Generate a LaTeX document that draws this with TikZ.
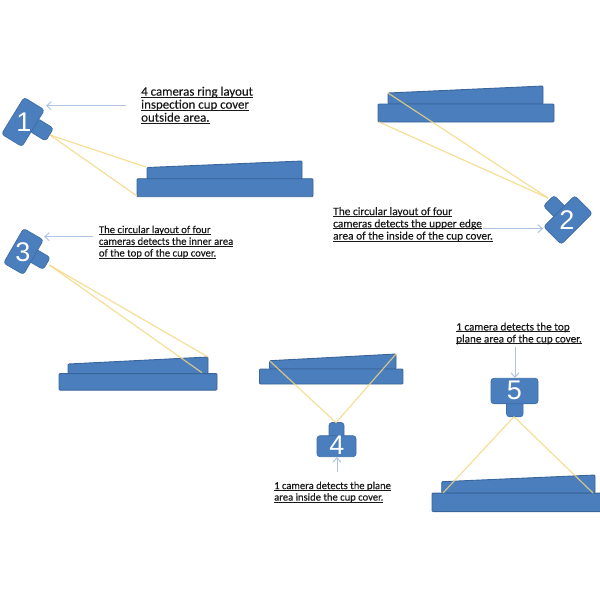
\documentclass[tikz,border=0pt]{standalone}
\usepackage{fontspec}
\setmainfont{Carlito}[FakeBold=0.25]
\newfontfamily\labfont{Carlito}[RawFeature={embolden=0.25}]
\newfontfamily\digitfont{Liberation Sans}
\usetikzlibrary{arrows.meta}
\newcommand\ulin[1]{\setbox0=\hbox{#1}\rlap{\rule[-1.8pt]{\wd0}{0.8pt}}\box0 }
\definecolor{coverblue}{HTML}{4A7EBD}
\definecolor{coveredge}{HTML}{3A659B}
\definecolor{beamyellow}{HTML}{F4D67E}
\definecolor{pointerblue}{HTML}{AFC4E2}
\tikzset{
  x=1pt,y=-1pt,
  part/.style={fill=coverblue,draw=coveredge,line width=0.9pt,rounded corners=1pt},
  campart/.style={fill=coverblue,draw=coveredge!70!coverblue,line width=0.7pt,rectangle,rounded corners=3pt,inner sep=0pt},
  beam/.style={draw=beamyellow,line width=1.2pt,opacity=0.8},
  pointer/.style={draw=pointerblue,line width=1pt,-{Straight Barb[length=4.5pt,width=8pt]}},
  digit/.style={text=white,font=\fontsize{27}{27}\digitfont,inner sep=0pt},
  lab/.style={anchor=north west,align=left,inner sep=0pt,text=black!90}
}
\begin{document}
\begin{tikzpicture}
\useasboundingbox (0,0) rectangle (600,600);
% cup 1
\coordinate (t1a) at (147,167.5); \coordinate (t1b) at (302,161); \coordinate (t1c) at (302,179); \coordinate (t1d) at (147,179);
\draw[part] (t1a) -- (t1b) -- (t1c) -- (t1d) -- cycle;
\node[part,inner sep=0pt,minimum width=176pt,minimum height=18pt] (b1) at (225,187.7) {};
\coordinate (r1a) at (146,167); \coordinate (r1b) at (137,196);
% camera 1
\node[campart,minimum width=19pt,minimum height=15pt,rotate=-31.5] (l1) at (41.5,129.7) {};
\node[campart,minimum width=24pt,minimum height=43pt,rotate=-31.5] (c1) at (23,122) {};
\node[digit] (d1) at (24,122) {1};
\coordinate (a1) at (50,135);
\draw[beam] (a1) -- (r1a);
\draw[beam] (a1) -- (r1b);
% cup 2
\coordinate (t2a) at (388,93); \coordinate (t2b) at (543,86); \coordinate (t2c) at (543,104); \coordinate (t2d) at (388,104);
\draw[part] (t2a) -- (t2b) -- (t2c) -- (t2d) -- cycle;
\node[part,inner sep=0pt,minimum width=176pt,minimum height=18pt] (b2) at (466,113) {};
\coordinate (r2b) at (379,122);
% camera 2
\node[campart,minimum width=18pt,minimum height=15pt,rotate=-45] (l2) at (555,207) {};
\node[campart,minimum width=25pt,minimum height=44pt,rotate=-45] (c2) at (568,220) {};
\node[digit] (d2) at (567,220) {2};
\coordinate (a2) at (548,198);
\draw[beam] (a2) -- (t2a);
\draw[beam] (a2) -- (r2b);
% cup 3
\coordinate (t3a) at (68,364); \coordinate (t3b) at (208,357); \coordinate (t3c) at (208,373.5); \coordinate (t3d) at (68,373.5);
\draw[part] (t3a) -- (t3b) -- (t3c) -- (t3d) -- cycle;
\node[part,inner sep=0pt,minimum width=158pt,minimum height=16.5pt] (b3) at (138,381.8) {};
\coordinate (r3b) at (202,372.7);
% camera 3
\node[campart,minimum width=18pt,minimum height=14pt,rotate=-30] (l3) at (39,259) {};
\node[campart,minimum width=23pt,minimum height=40pt,rotate=-30] (c3) at (23.5,251.5) {};
\node[digit] (d3) at (23,252) {3};
\coordinate (a3) at (49.3,265);
\draw[beam] (a3) -- (t3b);
\draw[beam] (a3) -- (r3b);
% cup 4
\coordinate (t4a) at (269.5,360.7); \coordinate (t4b) at (396,354); \coordinate (t4c) at (396,369); \coordinate (t4d) at (269.5,369);
\draw[part] (t4a) -- (t4b) -- (t4c) -- (t4d) -- cycle;
\node[part,inner sep=0pt,minimum width=143.5pt,minimum height=15pt] (b4) at (331.2,376.5) {};
% camera 4
\node[campart,minimum width=15pt,minimum height=18pt] (l4) at (336.5,431.5) {};
\node[campart,minimum width=39pt,minimum height=21pt] (c4) at (336.5,446.2) {};
\node[digit] (d4) at (337,445.5) {4};
\coordinate (a4) at (336,422.7);
\draw[beam] (a4) -- (t4a);
\draw[beam] (a4) -- (t4b);
% cup 5
\coordinate (t5a) at (441.7,481.7); \coordinate (t5b) at (595,475); \coordinate (t5c) at (595,493); \coordinate (t5d) at (441.7,493);
\draw[part] (t5a) -- (t5b) -- (t5c) -- (t5d) -- cycle;
\node[part,inner sep=0pt,minimum width=172pt,minimum height=18.5pt] (b5) at (518,502.3) {};
\coordinate (r5a) at (443,493); \coordinate (r5b) at (593,493);
% camera 5
\node[campart,minimum width=16.5pt,minimum height=18pt] (l5) at (514.8,407.8) {};
\node[campart,minimum width=47pt,minimum height=25.5pt] (c5) at (514.5,391) {};
\node[digit] (d5) at (514.5,390) {5};
\coordinate (a5) at (514,416.7);
\draw[beam] (a5) -- (r5a);
\draw[beam] (a5) -- (r5b);
% labels
\node[lab,font=\labfont\fontsize{12.9}{13}\selectfont] (n1) at (141,86.5) {\ulin{4 cameras ring layout}\\\ulin{inspection cup cover}\\\ulin{outside area.}};
\node[lab,font=\labfont\fontsize{11.4}{12.2}\selectfont] (n2) at (333,207) {\ulin{The circular layout of four}\\\ulin{cameras detects the upper edge}\\\ulin{area of the inside of the cup cover.}};
\node[lab,font=\labfont\fontsize{10.7}{11.7}\selectfont] (n3) at (98.7,225.5) {\ulin{The circular layout of four}\\\ulin{cameras detects the inner area}\\\ulin{of the top of the cup cover.}};
\node[lab,font=\labfont\fontsize{10.6}{11.5}\selectfont] (n4) at (274,481.5) {\ulin{1 camera detects the plane}\\\ulin{area inside the cup cover.}};
\node[lab,font=\labfont\fontsize{11.2}{12}\selectfont] (n5) at (456,322.5) {\ulin{1 camera detects the top}\\\ulin{plane area of the cup cover.}};
% pointers
\coordinate (p1) at (126,105.7); \coordinate (p2) at (483,228.7); \coordinate (p3) at (93,236.7); \coordinate (p4) at (337,471.7); \coordinate (p5) at (515,347);
\coordinate (q1) at (46,105.7); \coordinate (q2) at (543,228.7); \coordinate (q3) at (44,236.7); \coordinate (q4) at (337,457); \coordinate (q5) at (515,378);
\draw[pointer] (p1) -- (q1);
\draw[pointer] (p2) -- (q2);
\draw[pointer] (p3) -- (q3);
\draw[pointer] (p4) -- (q4);
\draw[pointer] (p5) -- (q5);
\end{tikzpicture}
\end{document}
